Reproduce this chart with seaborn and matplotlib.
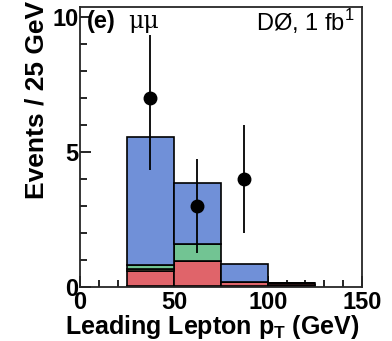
import numpy as np
import pandas as pd
import matplotlib
matplotlib.use("Agg")
import matplotlib.pyplot as plt
import seaborn as sns
from matplotlib.ticker import MultipleLocator

# binned MC backgrounds (bins 25-50, 50-75, 75-100, 100-125 GeV)
bin_edges = [25, 50, 75, 100, 125]
bin_centers = [37.5, 62.5, 87.5, 112.5]
bkg_other = [0.05, 0.05, 0.05, 0.08]
bkg_red = [0.53, 0.91, 0.15, 0.06]
bkg_yellow = [0.10, 0.0, 0.0, 0.0]
bkg_green = [0.15, 0.62, 0.0, 0.0]
bkg_blue = [4.74, 2.26, 0.65, 0.0]

# data points
data_x = [37.5, 62.5, 87.5]
data_y = [7, 3, 4]

layer_names = ["other", "red", "yellow", "green", "blue"]
layer_vals = [bkg_other, bkg_red, bkg_yellow, bkg_green, bkg_blue]
layer_colors = {"other": "#b03a48", "red": "#e0646a", "yellow": "#ece6b0",
                "green": "#72c493", "blue": "#7090d8"}

rows = []
for name, vals in zip(layer_names, layer_vals):
    for c, v in zip(bin_centers, vals):
        rows.append({"pt": c, "w": v, "proc": name})
df = pd.DataFrame(rows)

sns.set_style("ticks")
plt.rcParams['font.family'] = ['Liberation Sans', 'DejaVu Sans']
plt.rcParams['text.color'] = 'black'
plt.rcParams['axes.labelcolor'] = 'black'
plt.rcParams['xtick.color'] = 'black'
plt.rcParams['ytick.color'] = 'black'

fig = plt.figure(figsize=(3.92, 3.41), dpi=100)
ax = fig.add_axes([0.204, 0.158, 0.719, 0.821])

sns.histplot(data=df, x="pt", weights="w", hue="proc", hue_order=layer_names[::-1],
             multiple="stack", bins=bin_edges, element="bars", palette=layer_colors,
             edgecolor="black", linewidth=1.2, alpha=1, legend=False, ax=ax)

yerr = np.sqrt(data_y)
ax.errorbar(data_x, data_y, yerr=yerr, fmt="o", color="black", ms=9,
            elinewidth=1.3, capsize=0, zorder=5)

ax.set_xlim(0, 150)
ax.set_ylim(0, 10.37)
ax.xaxis.set_major_locator(MultipleLocator(50))
ax.xaxis.set_minor_locator(MultipleLocator(10))
ax.yaxis.set_major_locator(MultipleLocator(5))
ax.yaxis.set_minor_locator(MultipleLocator(1))
ax.tick_params(which="both", direction="in", width=1.2)
ax.tick_params(which="major", length=8, labelsize=17)
ax.tick_params(which="minor", length=5)
ax.tick_params(axis="x", which="major", pad=3)
ax.tick_params(axis="y", which="major", pad=1)
for lbl in ax.get_xticklabels() + ax.get_yticklabels():
    lbl.set_fontweight("bold")
for s in ax.spines.values():
    s.set_linewidth(1.3)
    s.set_visible(True)

ax.set_xlabel("Leading Lepton p$_\\mathregular{T}$ (GeV)", fontsize=18,
              fontweight="bold")
ax.xaxis.set_label_coords(0.47, -0.168)
ax.xaxis.label.set_verticalalignment("baseline")
ax.set_ylabel("Events / 25 GeV", fontsize=19, fontweight="bold")
ax.yaxis.set_label_coords(-0.11, 0.668)

ax.text(0.025, 0.948, "(e)", transform=ax.transAxes, fontsize=17,
        fontweight="bold", va="center", ha="left", zorder=6)
ax.text(0.17, 0.948, "\u03bc\u03bc", transform=ax.transAxes, fontsize=17,
        family=["DejaVu Serif"], va="center", ha="left", zorder=6,
        bbox=dict(facecolor="white", edgecolor="none", pad=1))
ax.text(0.975, 0.948, "D\u00d8, 1 fb$^\\mathregular{1}$", transform=ax.transAxes,
        fontsize=17, va="center", ha="right", zorder=6)

fig.savefig("out.png", dpi=100)
